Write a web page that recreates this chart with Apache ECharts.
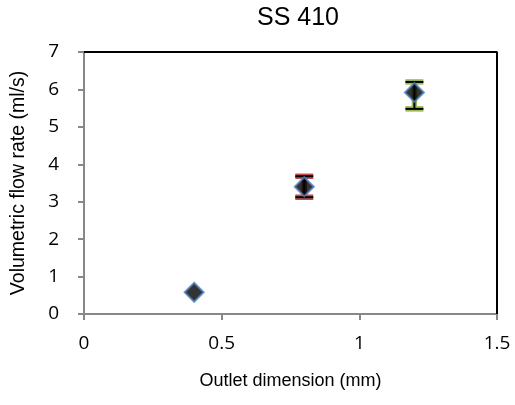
<!DOCTYPE html>
<html>
<head>
<meta charset="utf-8">
<script src="https://cdn.jsdelivr.net/npm/echarts@6/dist/echarts.min.js"></script>
<style>
  html, body { margin: 0; padding: 0; background: #fff; }
  #chart { width: 515px; height: 405px; }
</style>
</head>
<body>
<div id="chart"></div>
<script>
var outletDims = [0.4, 0.8, 1.2];
var flowRates = [0.58, 3.4, 5.92];
var errLow = [0.58, 3.12, 5.48];
var errHigh = [0.58, 3.68, 6.2];
var errColors = ["#4F81BD", "#C0504D", "#9BBB59"];

var chart = echarts.init(document.getElementById("chart"));
var FONT = "Liberation Sans, Arial, sans-serif";
var TICKFONT = "Open Sans, Liberation Sans, sans-serif";

var errData = outletDims.map(function (x, i) { return [x, errLow[i], errHigh[i], i]; });

function renderErr(params, api) {
  var x = api.value(0), lo = api.value(1), hi = api.value(2), idx = api.value(3);
  if (hi - lo <= 0) return;
  var pLo = api.coord([x, lo]);
  var pHi = api.coord([x, hi]);
  var half = 9;
  var col = errColors[idx];
  var segs = [
    [[pLo[0], pLo[1]], [pHi[0], pHi[1]]],
    [[pLo[0] - half, pLo[1]], [pLo[0] + half, pLo[1]]],
    [[pHi[0] - half, pHi[1]], [pHi[0] + half, pHi[1]]]
  ];
  var children = [];
  segs.forEach(function (s) {
    children.push({ type: "line", shape: { x1: s[0][0], y1: s[0][1], x2: s[1][0], y2: s[1][1] },
      style: { stroke: col, lineWidth: 5.5 } });
  });
  segs.forEach(function (s) {
    children.push({ type: "line", shape: { x1: s[0][0], y1: s[0][1], x2: s[1][0], y2: s[1][1] },
      style: { stroke: "#000", lineWidth: 2 } });
  });
  return { type: "group", children: children };
}

chart.setOption({
  animation: false,
  backgroundColor: "#fff",
  title: {
    text: "SS 410",
    left: 293,
    textAlign: "center",
    top: 1,
    textStyle: { fontFamily: FONT, fontSize: 25, fontWeight: "normal", color: "#000" }
  },
  grid: { left: 84, right: 18, top: 52, bottom: 91 },
  xAxis: {
    type: "value",
    min: 0, max: 1.5, interval: 0.5,
    name: "Outlet dimension (mm)",
    nameLocation: "middle",
    nameGap: 58,
    nameTextStyle: { fontFamily: FONT, fontSize: 18, color: "#000" },
    axisLine: { show: true, onZero: false, lineStyle: { color: "#888", width: 2 } },
    axisTick: { show: true, inside: false, length: 6, lineStyle: { color: "#888", width: 2 } },
    axisLabel: { fontFamily: TICKFONT, fontSize: 19, color: "#000", margin: 20 },
    splitLine: { show: false }
  },
  yAxis: {
    type: "value",
    min: 0, max: 7, interval: 1,
    name: "Volumetric flow rate (ml/s)",
    nameLocation: "middle",
    nameGap: 55,
    nameTextStyle: { fontFamily: FONT, fontSize: 19.5, color: "#000" },
    axisLine: { show: true, onZero: false, lineStyle: { color: "#888", width: 2 } },
    axisTick: { show: true, inside: false, length: 6, lineStyle: { color: "#888", width: 2 } },
    axisLabel: { fontFamily: TICKFONT, fontSize: 19, color: "#000", margin: 25 },
    splitLine: { show: false }
  },
  series: [
    {
      type: "line",
      data: [[0, 7], [1.5, 7], [1.5, 0]],
      symbol: "none",
      silent: true,
      lineStyle: { color: "#000", width: 2 },
      z: 1
    },
    {
      type: "custom",
      data: errData,
      renderItem: renderErr,
      encode: { x: 0, y: [1, 2] },
      z: 2
    },
    {
      type: "scatter",
      data: outletDims.map(function (x, i) { return [x, flowRates[i]]; }),
      symbol: "diamond",
      symbolSize: [19, 19],
      itemStyle: { color: "#000", borderColor: "#4F81BD", borderWidth: 2 },
      z: 3
    }
  ]
});
</script>
</body>
</html>
